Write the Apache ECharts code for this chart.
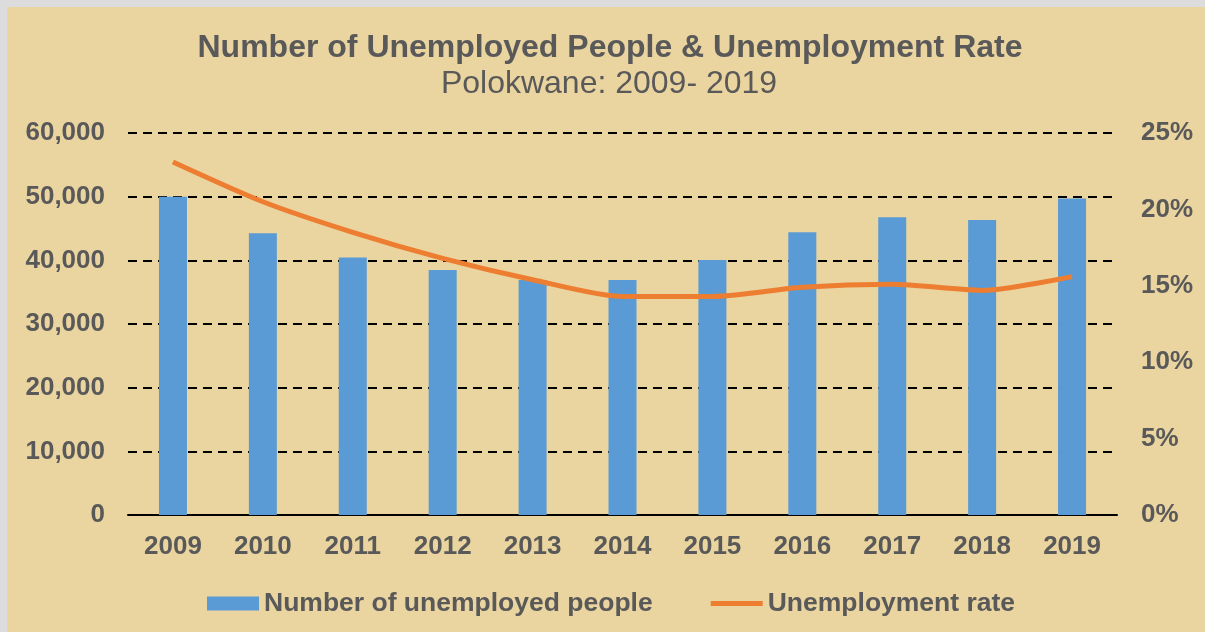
<!DOCTYPE html>
<html>
<head>
<meta charset="utf-8">
<script src="https://cdn.jsdelivr.net/npm/echarts@6/dist/echarts.min.js"></script>
<style>
html,body{margin:0;padding:0;background:#dcdcdc;width:1205px;height:632px;overflow:hidden;}
#chart{position:absolute;left:7px;top:7px;width:1198px;height:625px;
background:#EAD49F;}
</style>
</head>
<body>
<div id="chart"></div>
<script>
const categories = ['2009','2010','2011','2012','2013','2014','2015','2016','2017','2018','2019'];
const unemployedPeople = [50000, 44250, 40450, 38500, 36900, 36900, 40050, 44400, 46750, 46350, 49700];
const unemploymentRate = [23.1, 20.5, 18.5, 16.8, 15.4, 14.3, 14.3, 14.9, 15.1, 14.7, 15.6];
const leftTicks = {min: 0, max: 60000, interval: 10000};
const rightTicks = {min: 0, max: 25, interval: 5};

const gray = '#595959';
const font = 'Liberation Sans, Arial, sans-serif';
const chart = echarts.init(document.getElementById('chart'), null, {renderer: 'canvas'});
chart.setOption({
  backgroundColor: 'transparent',
  animation: false,
  title: [
    {text: 'Number of Unemployed People & Unemployment Rate', left: 598, top: 20, textAlign: 'center',
     textStyle: {fontFamily: font, fontSize: 32, fontWeight: 'bold', color: gray, lineHeight: 32}},
    {text: 'Polokwane: 2009- 2019', left: 597, top: 56, textAlign: 'center',
     textStyle: {fontFamily: font, fontSize: 32, fontWeight: 'normal', color: gray, lineHeight: 32}}
  ],
  legend: {
    left: 195, top: 578, itemWidth: 52, itemHeight: 14, itemGap: 58,
    textStyle: {fontFamily: font, fontSize: 26.5, fontWeight: 'bold', color: gray},
    data: [
      {name: 'Number of unemployed people', icon: 'rect'},
      {name: 'Unemployment rate', icon: 'path://M0,0 L52,0 L52,5 L0,5 Z'}
    ]
  },
  grid: {left: 121, right: 88, top: 126, bottom: 117, containLabel: false},
  xAxis: {
    type: 'category', data: categories, boundaryGap: true,
    axisTick: {show: false},
    axisLine: {lineStyle: {color: '#000', width: 2}},
    axisLabel: {margin: 19, fontFamily: font, fontSize: 26, fontWeight: 'bold', color: gray}
  },
  yAxis: [
    {type: 'value', min: leftTicks.min, max: leftTicks.max, interval: leftTicks.interval,
     axisLine: {show: false}, axisTick: {show: false},
     axisLabel: {margin: 23, fontFamily: font, fontSize: 26, fontWeight: 'bold', color: gray,
       formatter: v => v.toLocaleString('en-US')},
     splitLine: {show: true, lineStyle: {color: '#000', width: 2, type: [9, 6]}}},
    {type: 'value', min: rightTicks.min, max: rightTicks.max, interval: rightTicks.interval,
     axisLine: {show: false}, axisTick: {show: false},
     axisLabel: {margin: 24, fontFamily: font, fontSize: 26, fontWeight: 'bold', color: gray,
       formatter: '{value}%'},
     splitLine: {show: false}}
  ],
  series: [
    {name: 'Number of unemployed people', type: 'bar', data: unemployedPeople, barWidth: 28,
     itemStyle: {color: '#5B9BD5'}, yAxisIndex: 0},
    {name: 'Unemployment rate', type: 'line', data: unemploymentRate, yAxisIndex: 1,
     smooth: 0.25, symbol: 'none', lineStyle: {color: '#ED7D31', width: 5}, itemStyle: {color: '#ED7D31'}}
  ]
});
</script>
</body>
</html>
